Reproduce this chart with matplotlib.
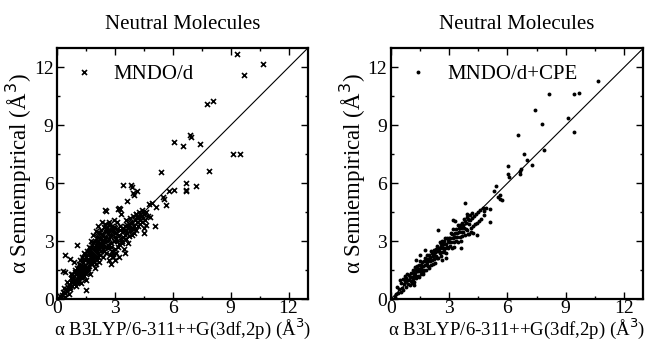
import matplotlib
matplotlib.use("Agg")
import matplotlib.pyplot as plt
from matplotlib.ticker import MultipleLocator

plt.rcParams['font.family'] = ['Liberation Serif', 'DejaVu Serif']

# ---------------- data: MNDO/d (left) ----------------
mndo_pts = [
    # outliers
    (9.35, 12.7), (10.7, 12.2), (9.69, 11.6), (7.8, 10.1), (8.1, 10.25),
    (6.9, 8.5), (6.95, 8.4), (6.05, 8.14), (6.55, 7.95), (7.4, 8.05),
    (9.1, 7.5), (9.5, 7.53), (7.88, 6.64), (5.39, 6.57), (6.67, 6.0),
    (6.7, 5.67), (6.7, 5.6), (7.22, 5.86), (6.08, 5.67), (5.8, 5.6),
    (5.66, 4.86), (5.54, 5.2), (5.5, 5.3), (5.06, 3.78), (5.15, 4.78),
    (3.42, 5.9), (3.85, 5.93), (3.88, 5.8), (3.94, 5.47), (4.0, 5.38),
    (4.15, 5.6), (3.63, 5.07), (2.56, 4.57), (3.16, 4.69), (3.28, 4.66),
    (4.1, 4.43), (4.5, 3.41), (4.84, 4.26), (4.63, 3.83),
    (1.05, 2.8), (0.4, 2.28), (0.66, 2.1), (0.86, 1.93), (0.31, 1.47),
    (0.4, 1.41), (1.52, 0.47), (0.66, 0.6),
    # cluster x 0.2-1.0
    (0.25, 0.2), (0.3, 0.35), (0.4, 0.3), (0.45, 0.5), (0.5, 0.4), (0.55, 0.6),
    (0.6, 0.75), (0.5, 0.9), (0.65, 0.5), (0.7, 0.9), (0.75, 1.1), (0.8, 0.7),
    (0.8, 1.3), (0.85, 0.95), (0.9, 1.2), (0.9, 0.8), (0.95, 1.5), (1.0, 1.0),
    (1.0, 1.3), (1.0, 0.7), (0.6, 0.25), (0.4, 0.1), (0.2, 0.05), (0.15, 0.15),
    (0.35, 0.55), (0.72, 1.32), (0.83, 1.07), (0.93, 1.38), (0.97, 0.88),
    # x 1.0-1.5
    (1.05, 1.6), (1.1, 0.9), (1.1, 1.2), (1.1, 1.45), (1.15, 1.8), (1.15, 1.0),
    (1.2, 1.3), (1.2, 1.6), (1.2, 2.0), (1.25, 0.85), (1.25, 1.45), (1.3, 1.1),
    (1.3, 1.7), (1.3, 2.2), (1.35, 1.35), (1.35, 1.9), (1.4, 1.5), (1.4, 1.2),
    (1.4, 2.4), (1.45, 1.75), (1.45, 2.0), (1.5, 1.4), (1.5, 1.6), (1.5, 2.2),
    (1.5, 1.0), (1.55, 2.5), (1.08, 1.33), (1.18, 1.15), (1.22, 1.78),
    (1.28, 1.58), (1.33, 2.05), (1.38, 1.62), (1.43, 1.33), (1.47, 2.33),
    # x 1.5-2.0
    (1.6, 1.5), (1.6, 1.9), (1.6, 2.3), (1.65, 2.7), (1.65, 1.7), (1.7, 2.0),
    (1.7, 2.5), (1.7, 1.3), (1.75, 2.2), (1.75, 3.0), (1.8, 1.8), (1.8, 2.4),
    (1.8, 2.8), (1.85, 2.1), (1.85, 3.3), (1.9, 2.6), (1.9, 1.9), (1.9, 2.3),
    (1.95, 3.0), (1.95, 1.6), (2.0, 2.2), (2.0, 2.5), (2.0, 2.8), (2.0, 3.5),
    (2.0, 1.8), (1.58, 2.08), (1.63, 1.62), (1.68, 2.38), (1.73, 1.85),
    (1.78, 2.63), (1.83, 1.95), (1.88, 2.95), (1.93, 2.18), (1.98, 2.68),
    # x 2.0-2.5
    (2.05, 2.0), (2.05, 3.2), (2.1, 2.4), (2.1, 2.7), (2.1, 3.8), (2.15, 2.2),
    (2.15, 3.0), (2.2, 2.6), (2.2, 3.4), (2.2, 1.9), (2.25, 2.9), (2.25, 2.3),
    (2.3, 3.1), (2.3, 2.5), (2.3, 3.6), (2.35, 2.7), (2.35, 4.0), (2.4, 2.2),
    (2.4, 3.3), (2.4, 2.9), (2.45, 3.0), (2.45, 2.5), (2.5, 3.5), (2.5, 2.7),
    (2.5, 4.6), (2.5, 3.9), (2.08, 2.55), (2.13, 3.45), (2.18, 2.85),
    (2.23, 3.15), (2.28, 2.72), (2.33, 3.35), (2.38, 3.05), (2.43, 3.72),
    (2.48, 3.18),
    # x 2.5-3.0
    (2.55, 3.2), (2.55, 2.4), (2.6, 3.0), (2.6, 3.7), (2.65, 2.8), (2.65, 3.4),
    (2.7, 3.1), (2.7, 2.0), (2.7, 4.0), (2.75, 3.6), (2.75, 2.3), (2.8, 3.3),
    (2.8, 2.9), (2.8, 1.8), (2.85, 3.8), (2.85, 2.5), (2.9, 3.5), (2.9, 2.2),
    (2.95, 3.0), (2.95, 4.1), (3.0, 3.2), (3.0, 2.6), (3.0, 3.7), (3.0, 2.0),
    (2.58, 3.52), (2.63, 2.62), (2.68, 3.85), (2.73, 3.25), (2.78, 2.72),
    (2.83, 3.58), (2.88, 2.35), (2.93, 3.75), (2.98, 3.42),
    # x 3.0-3.5
    (3.05, 3.4), (3.05, 2.4), (3.1, 4.0), (3.1, 3.0), (3.15, 2.7), (3.2, 4.7),
    (3.2, 3.3), (3.2, 2.2), (3.25, 3.6), (3.3, 3.1), (3.3, 4.4), (3.35, 2.9),
    (3.4, 3.5), (3.4, 3.2), (3.45, 2.6), (3.5, 3.8), (3.5, 3.3), (3.5, 2.4),
    (3.12, 3.62), (3.22, 2.85), (3.28, 3.78), (3.38, 3.02), (3.44, 3.68),
    # x 3.5-4.0
    (3.55, 3.6), (3.6, 3.1), (3.6, 4.1), (3.65, 3.4), (3.7, 3.7), (3.7, 2.9),
    (3.75, 3.9), (3.8, 3.5), (3.8, 4.2), (3.85, 3.7), (3.9, 3.3), (3.9, 4.0),
    (3.95, 4.3), (4.0, 3.8), (4.0, 3.4), (3.62, 3.82), (3.73, 3.28),
    (3.83, 3.95), (3.92, 3.62),
    # x 4.0-5.0
    (4.05, 4.1), (4.1, 3.6), (4.1, 4.4), (4.15, 4.0), (4.2, 4.2), (4.2, 3.8),
    (4.25, 4.5), (4.3, 4.1), (4.3, 3.9), (4.35, 4.3), (4.4, 4.0), (4.4, 4.6),
    (4.45, 4.2), (4.5, 3.7), (4.5, 4.4), (4.55, 4.1), (4.6, 4.5), (4.7, 4.3),
    (4.75, 4.9), (4.9, 5.0), (4.12, 4.25), (4.28, 4.38), (4.42, 4.28),
]

# ---------------- data: MNDO/d+CPE (right) ----------------
cpe_pts = [
    # outliers
    (10.67, 11.28), (8.13, 10.64), (9.42, 10.64), (9.66, 10.67), (7.43, 9.78),
    (7.77, 9.05), (9.11, 9.38), (9.45, 8.66), (6.55, 8.48), (7.87, 7.71),
    (6.86, 7.53), (7.03, 7.22), (7.25, 6.95), (6.67, 6.64), (6.67, 6.5),
    (6.72, 6.76), (6.04, 6.47), (6.1, 6.33), (6.04, 6.9), (5.39, 5.86),
    (5.32, 5.6), (5.6, 5.38), (5.7, 5.12), (5.6, 5.16), (5.5, 5.3),
    (5.13, 4.69), (5.13, 4.0), (3.84, 4.95), (2.44, 3.6), (4.82, 4.34),
    # x 0.2-1.0
    (0.22, 0.12), (0.27, 0.24), (0.33, 0.61), (0.38, 0.29), (0.44, 0.52),
    (0.46, 0.97), (0.51, 0.38), (0.55, 0.83), (0.57, 0.58), (0.62, 1.04),
    (0.64, 0.47), (0.69, 0.76), (0.71, 1.18), (0.74, 0.91), (0.79, 0.62),
    (0.81, 1.07), (0.86, 1.29), (0.87, 0.78), (0.91, 0.99), (0.96, 1.24),
    (0.98, 0.71), (1.01, 1.12),
    # x 1.0-2.0
    (1.04, 0.95), (1.06, 1.37), (1.09, 1.14), (1.11, 0.84), (1.14, 1.52),
    (1.16, 1.02), (1.19, 1.36), (1.21, 0.88), (1.23, 1.65), (1.26, 1.23),
    (1.29, 1.53), (1.31, 1.10), (1.34, 1.43), (1.36, 1.71), (1.39, 1.22),
    (1.41, 1.54), (1.44, 1.15), (1.46, 1.74), (1.49, 1.43), (1.51, 1.95),
    (1.54, 1.30), (1.56, 1.75), (1.59, 1.48), (1.61, 1.94), (1.64, 1.28),
    (1.66, 1.73), (1.69, 1.95), (1.71, 1.52), (1.74, 2.13), (1.76, 1.74),
    (1.79, 1.95), (1.81, 1.50), (1.84, 2.07), (1.86, 1.78), (1.89, 2.26),
    (1.91, 1.69), (1.94, 2.05), (1.96, 1.61), (1.99, 2.28), (2.01, 1.97),
    (1.32, 2.03), (1.52, 2.28), (1.78, 2.52), (1.21, 0.72), (1.45, 1.58),
    (1.18, 1.21), (1.38, 1.44), (1.58, 1.62), (1.68, 1.41), (1.88, 1.92),
    # x 2.0-3.0
    (2.04, 2.16), (2.06, 1.78), (2.09, 2.50), (2.11, 2.04), (2.14, 2.36),
    (2.16, 1.80), (2.19, 2.22), (2.21, 2.52), (2.24, 2.05), (2.26, 2.43),
    (2.29, 1.87), (2.31, 2.57), (2.34, 2.23), (2.36, 2.74), (2.39, 2.15),
    (2.41, 2.48), (2.44, 2.11), (2.46, 2.65), (2.49, 2.47), (2.51, 2.95),
    (2.54, 2.38), (2.56, 2.85), (2.59, 2.21), (2.61, 2.70), (2.64, 2.43),
    (2.66, 3.00), (2.69, 2.64), (2.71, 2.86), (2.74, 2.45), (2.76, 3.00),
    (2.79, 2.66), (2.81, 3.17), (2.84, 2.39), (2.86, 2.87), (2.89, 3.16),
    (2.91, 2.68), (2.94, 3.05), (2.96, 2.62), (2.99, 3.17), (3.01, 2.93),
    (2.62, 2.02), (2.82, 2.13), (2.18, 2.31), (2.52, 2.62), (2.72, 2.58),
    # x 3.0-4.0
    (3.04, 2.73), (3.06, 3.14), (3.09, 3.42), (3.12, 2.94), (3.14, 2.67),
    (3.17, 3.38), (3.19, 3.15), (3.22, 3.61), (3.24, 2.98), (3.27, 2.72),
    (3.29, 3.43), (3.32, 3.20), (3.34, 3.63), (3.37, 2.99), (3.39, 3.41),
    (3.42, 3.21), (3.44, 3.85), (3.47, 2.98), (3.49, 3.66), (3.52, 3.45),
    (3.54, 3.86), (3.57, 3.24), (3.59, 3.01), (3.62, 3.68), (3.64, 3.47),
    (3.67, 3.93), (3.69, 3.27), (3.72, 3.83), (3.74, 3.46), (3.77, 4.14),
    (3.79, 3.70), (3.82, 3.31), (3.84, 4.03), (3.87, 3.63), (3.89, 3.92),
    (3.92, 4.23), (3.94, 3.58), (3.97, 3.36), (3.99, 4.14), (4.02, 3.88),
    (3.22, 4.12), (3.32, 4.02), (3.62, 2.62), (3.93, 4.42),
    # x 4.0-5.0
    (4.04, 3.38), (4.07, 4.11), (4.09, 4.36), (4.12, 3.69), (4.14, 3.47),
    (4.17, 4.21), (4.19, 4.46), (4.22, 3.78), (4.27, 4.31), (4.32, 3.87),
    (4.37, 4.41), (4.42, 3.96), (4.47, 4.52), (4.52, 4.06), (4.57, 4.61),
    (4.62, 4.16), (4.72, 4.71), (4.82, 4.55), (4.42, 3.32), (4.22, 3.42),
    (4.92, 4.72),
]

mndo_x = [p[0] for p in mndo_pts]
mndo_y = [p[1] for p in mndo_pts]
cpe_x = [p[0] for p in cpe_pts]
cpe_y = [p[1] for p in cpe_pts]

ticks = [0, 3, 6, 9, 12]
diag = [0, 13]
titles = ["Neutral Molecules", "Neutral Molecules"]
labels = ["MNDO/d", "MNDO/d+CPE"]

fig = plt.figure(figsize=(6.48, 3.41), dpi=100)
ax1 = fig.add_axes([0.088, 0.123, 0.387, 0.736])
ax2 = fig.add_axes([0.603, 0.123, 0.390, 0.736])

ax1.plot(mndo_x, mndo_y, linestyle='none', marker='x', ms=3.6, mew=1.2,
         color='black', label=labels[0])
ax2.plot(cpe_x, cpe_y, linestyle='none', marker='o', ms=2.8, mew=0,
         color='black', label=labels[1])

for ax, title in zip([ax1, ax2], titles):
    ax.plot(diag, diag, color='black', lw=0.8)
    ax.set_xlim(0, 13)
    ax.set_ylim(0, 13)
    ax.set_xticks(ticks)
    ax.set_yticks(ticks)
    ax.xaxis.set_minor_locator(MultipleLocator(1.5))
    ax.yaxis.set_minor_locator(MultipleLocator(1.5))
    ax.tick_params(which='both', direction='in', top=True, right=True,
                   labelsize=14, width=1.0)
    ax.tick_params(axis='x', which='both', pad=1)
    ax.tick_params(axis='y', which='both', pad=2.5)
    ax.tick_params(which='major', length=5)
    ax.tick_params(which='minor', length=2.5)
    for s in ax.spines.values():
        s.set_linewidth(1.6)
    ax.set_title(title, fontsize=15, pad=14)
    ax.set_xlabel("α B3LYP/6-311++G(3df,2p) (Å$^3$)", fontsize=13.5, labelpad=-1)
    ax.set_ylabel("α Semiempirical (Å$^3$)", fontsize=16.5, labelpad=0)
    leg = ax.legend(loc='upper left', frameon=False, fontsize=15,
                    handletextpad=0.9, handlelength=1.0, borderaxespad=0.5,
                    borderpad=0.3, markerscale=1.0)

fig.savefig("out.png", dpi=100)
